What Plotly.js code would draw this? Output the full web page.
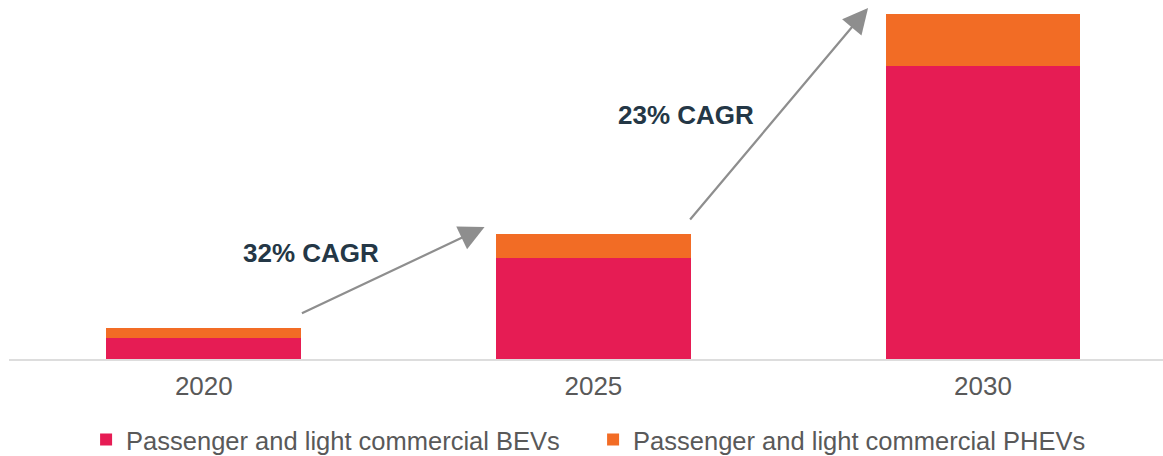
<!DOCTYPE html>
<html>
<head>
<meta charset="utf-8">
<script src="https://cdn.plot.ly/plotly-3.0.1.min.js"></script>
<style>html,body{margin:0;padding:0;background:#fff;}#chart{width:1163px;height:456px;}</style>
</head>
<body>
<div id="chart"></div>
<script>
// Data (arbitrary units, consistent with stated CAGRs)
var years = ["2020", "2025", "2030"];
var bevValues = [2.05, 10.1, 29.25];
var phevValues = [1.04, 2.36, 5.15];
var seriesNames = ["Passenger and light commercial BEVs", "Passenger and light commercial PHEVs"];
var cagrLabels = ["32% CAGR", "23% CAGR"];

var traces = [
  {type: "bar", x: years, y: bevValues, name: seriesNames[0],
   marker: {color: "#E61C54"}, hoverinfo: "skip"},
  {type: "bar", x: years, y: phevValues, name: seriesNames[1],
   marker: {color: "#F26C25"}, hoverinfo: "skip"}
];

var arrowStyle = {showarrow: true, arrowhead: 2, arrowsize: 2.3, arrowwidth: 2.2, arrowcolor: "#8E8E8E",
  xref: "x", yref: "y", axref: "x", ayref: "y", text: ""};

var layout = {
  width: 1163, height: 456,
  margin: {l: 9, r: 0, t: 8, b: 97, autoexpand: false},
  barmode: "stack",
  bargap: 0.5,
  paper_bgcolor: "#fff", plot_bgcolor: "#fff",
  showlegend: true,
  legend: {orientation: "h", x: 0.0668, xanchor: "left", y: -0.2308, yanchor: "middle",
    entrywidth: 462, entrywidthmode: "pixels",
    font: {family: "Liberation Sans, Arial, sans-serif", size: 25.5, color: "#595959"},
    traceorder: "normal"},
  xaxis: {type: "category", range: [-0.5, 2.462], showgrid: false, zeroline: false,
    showline: true, linecolor: "#DDDDDD", linewidth: 1.5, ticks: "", ticklabelstandoff: 3,
    tickfont: {family: "Liberation Sans, Arial, sans-serif", size: 26, color: "#595959"}},
  yaxis: {range: [0, 35], showgrid: false, zeroline: false, showline: false,
    showticklabels: false, ticks: ""},
  annotations: [
    Object.assign({}, arrowStyle, {x: 0.7206, y: 13.16, ax: 0.248, ay: 4.49}),
    Object.assign({}, arrowStyle, {x: 1.705, y: 35.0, ax: 1.245, ay: 13.76}),
    {text: "<b>" + cagrLabels[0] + "</b>", showarrow: false, xref: "x", yref: "y",
     x: 0.0956, y: 10.6, xanchor: "left", yanchor: "middle",
     font: {family: "Liberation Sans, Arial, sans-serif", size: 26, color: "#243746"}},
    {text: "<b>" + cagrLabels[1] + "</b>", showarrow: false, xref: "x", yref: "y",
     x: 1.057, y: 24.3, xanchor: "left", yanchor: "middle",
     font: {family: "Liberation Sans, Arial, sans-serif", size: 26, color: "#243746"}}
  ]
};

Plotly.newPlot("chart", traces, layout, {displayModeBar: false, staticPlot: true});
</script>
</body>
</html>
